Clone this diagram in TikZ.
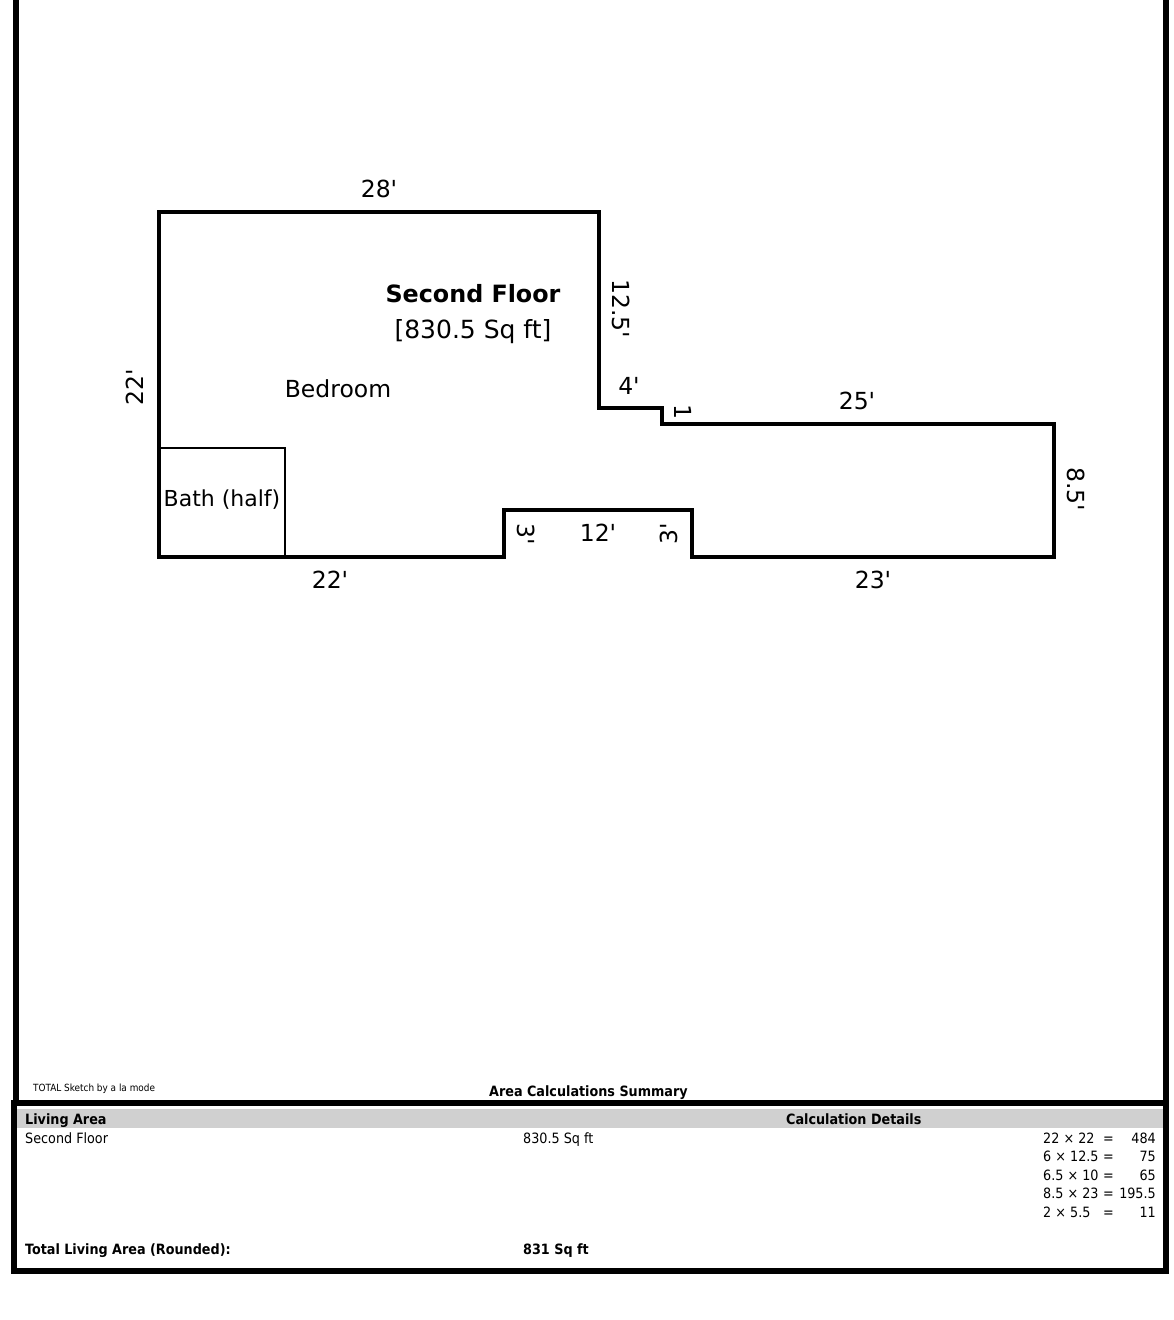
\documentclass[tikz,border=0pt]{standalone}
\usepackage{fontspec}
\setmainfont{DejaVu Sans}
\newfontfamily\tablefont{DejaVu Sans Condensed}
\usepackage{xcolor}
\definecolor{bandgray}{RGB}{208,208,208}
\newcommand{\ftmark}{\textquotesingle}
\tikzset{
  wall/.style={line width=4.8pt,line join=miter},
  frameline/.style={line width=6pt},
  dim/.style={font=\fontsize{23.5}{26}\selectfont,inner sep=0pt},
  tabletext/.style={font=\tablefont\fontsize{14.2}{17}\selectfont,inner sep=0pt,anchor=base west},
  tablehead/.style={tabletext,font=\tablefont\bfseries\fontsize{14.2}{17}\selectfont},
  tablenum/.style={tabletext,anchor=base east},
}
\begin{document}
\begin{tikzpicture}[x=1pt,y=-1pt]
        \useasboundingbox (0,0) rectangle (1174,1320);
        \fill[white] (0,0) rectangle (1174,1320);
        % outer frame
        \fill[bandgray] (17,1109) rectangle (1163,1128);
        \draw[frameline] (16,0)--(16,1103);
        \draw[frameline] (1166,0)--(1166,1103);
        \draw[frameline] (14,1103) rectangle (1166,1271);
        % walls
        \draw[wall] (159,212)--(599,212)--(599,408)--(662,408)--(662,424)--(1054,424)--(1054,557)--(692,557)--(692,510)--(504,510)--(504,557)--(159,557)--cycle;
        \draw[line width=1.8pt] (159,448)--(285,448)--(285,557);
        % wall lengths
        \node[dim] (top) at (379,189) {28\ftmark};
        \node[dim,rotate=90] (left) at (135,387) {22\ftmark};
        \node[dim,rotate=-90] (upper) at (621,309) {12.5\ftmark};
        \node[dim] (stepa) at (629,386) {4\ftmark};
        \node[dim,rotate=-90] (stepb) at (683,412) {1};
        \node[dim] (long) at (857,401) {25\ftmark};
        \node[dim,rotate=-90] (east) at (1076,489) {8.5\ftmark};
        \node[dim] (southeast) at (873,580) {23\ftmark};
        \node[dim,rotate=90] (bayright) at (669,534) {3\ftmark};
        \node[dim] (bay) at (598,533) {12\ftmark};
        \node[dim,rotate=-90] (bayleft) at (526,534) {3\ftmark};
        \node[dim] (southwest) at (330,580) {22\ftmark};
        % rooms
        \node[dim,font=\bfseries\fontsize{23.8}{27}\selectfont] (floor) at (473,294) {Second Floor};
        \node[dim,font=\fontsize{25}{27}\selectfont] (area) at (473,332) {[830.5 Sq ft]};
        \node[dim] (bedroom) at (338,389) {Bedroom};
        \node[dim,font=\fontsize{22}{24}\selectfont] (bath) at (222,500) {Bath (half)};
        % summary
        \node[tabletext,font=\tablefont\fontsize{9.9}{11}\selectfont] (credit) at (33,1091) {TOTAL Sketch by a la mode};
        \node[tablehead] (summary) at (489,1096) {Area Calculations Summary};
        \node[tablehead] (living) at (25,1124) {Living Area};
        \node[tablehead] (details) at (786,1124) {Calculation Details};
        \node[tabletext] (second) at (25,1143) {Second Floor};
        \node[tabletext] (sqft) at (523,1143) {830.5 Sq ft};
        \node[tablehead] (total) at (25,1254) {Total Living Area (Rounded):};
        \node[tablehead] (totalsqft) at (523,1254) {831 Sq ft};
        % calculation lines
        \foreach \calc/\res/\ypos [count=\i] in {22 × 22/484/1143,6 × 12.5/75/1161,6.5 × 10/65/1180,8.5 × 23/195.5/1198,2 × 5.5/11/1217}{
          \node[tabletext] (calc\i) at (1043,\ypos) {\calc};
          \node[tabletext] (eq\i) at (1103,\ypos) {=};
          \node[tablenum] (res\i) at (1156,\ypos) {\res};
        }
      \end{tikzpicture}
\end{document}
